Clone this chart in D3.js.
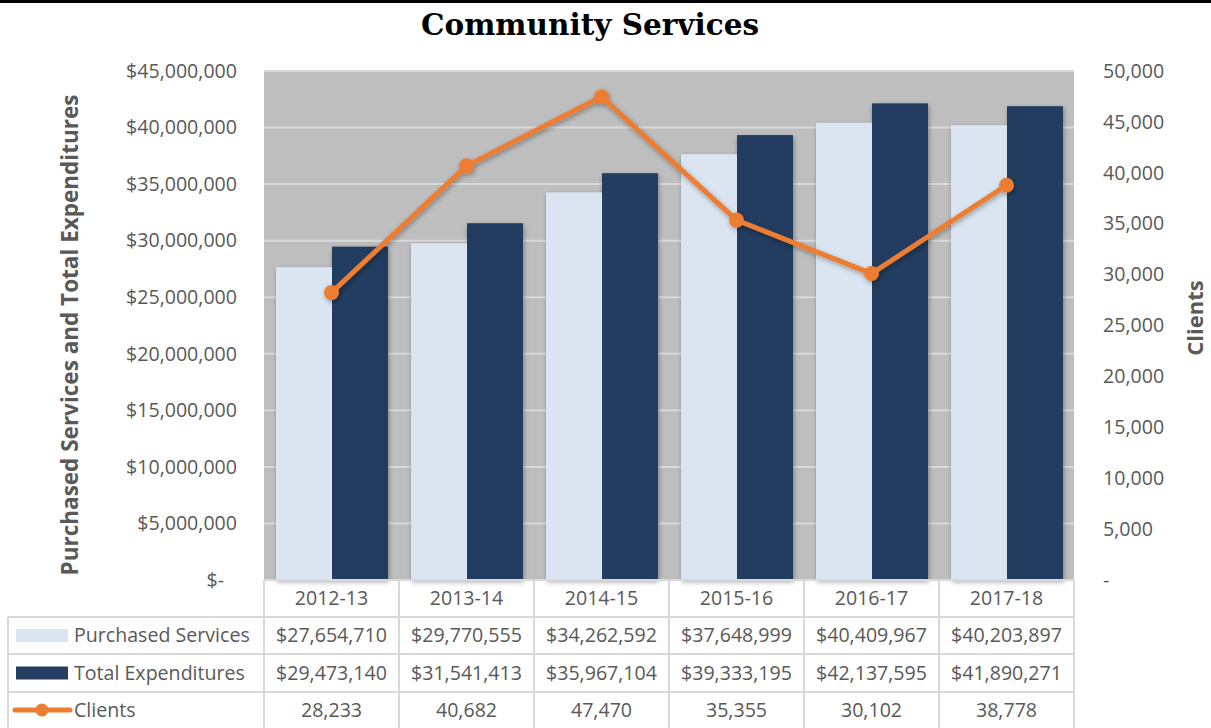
<!DOCTYPE html>
<html>
<head>
<meta charset="utf-8">
<script src="https://cdn.jsdelivr.net/npm/d3@7"></script>
<style>
  html, body { margin: 0; padding: 0; background: #fff; }
  svg { display: block; }
</style>
</head>
<body>
<svg id="chart" width="1211" height="728"></svg>
<script>
// Fiscal years shown along the category axis
const years = ["2012-13", "2013-14", "2014-15", "2015-16", "2016-17", "2017-18"];
// Dollar series (left axis)
const purchasedServices = [27654710, 29770555, 34262592, 37648999, 40409967, 40203897];
const totalExpenditures = [29473140, 31541413, 35967104, 39333195, 42137595, 41890271];
// Client counts (right axis)
const clients = [28233, 40682, 47470, 35355, 30102, 38778];
// Axis tick values
const dollarTicks = [0, 5e6, 10e6, 15e6, 20e6, 25e6, 30e6, 35e6, 40e6, 45e6];
const clientTicks = [0, 5000, 10000, 15000, 20000, 25000, 30000, 35000, 40000, 45000, 50000];

const seriesNames = ["Purchased Services", "Total Expenditures"];
const colors = { light: "#dbe5f1", dark: "#243e5f", line: "#ed7d31", text: "#595959", grid: "#d9d9d9", plot: "#bebebe" };

const svg = d3.select("#chart");
const font = "'Open Sans', 'Segoe UI', sans-serif";
const labelSize = 19.6;

const plot = { left: 264, right: 1074, top: 71, bottom: 580 };

// Shadow used under bars and the client line
const defs = svg.append("defs");
const shadow = defs.append("filter").attr("id", "shadow")
  .attr("x", "-20%").attr("y", "-20%").attr("width", "140%").attr("height", "140%");
shadow.append("feDropShadow").attr("dx", 1).attr("dy", 2).attr("stdDeviation", 2.5)
  .attr("flood-color", "#000").attr("flood-opacity", 0.35);

// Top rule
svg.append("rect").attr("x", 0).attr("y", 0).attr("width", 1211).attr("height", 3).attr("fill", "#000");

// Title
svg.append("text").attr("x", 590).attr("y", 35).attr("text-anchor", "middle")
  .attr("font-family", "'DejaVu Serif', serif").attr("font-weight", "bold")
  .attr("font-size", 29.5).attr("fill", "#000").text("Community Services");

// Scales
const x = d3.scaleBand().domain(years).range([plot.left, plot.right]).padding(0);
const xSub = d3.scaleBand().domain(seriesNames).range([12, x.bandwidth() - 11]).padding(0);
const yL = d3.scaleLinear().domain([0, 45e6]).range([plot.bottom, plot.top]);
const yR = d3.scaleLinear().domain([0, 50000]).range([plot.bottom, plot.top]);

// Plot background
svg.append("rect").attr("x", plot.left).attr("y", plot.top)
  .attr("width", plot.right - plot.left).attr("height", plot.bottom - plot.top)
  .attr("fill", colors.plot);

// Gridlines
svg.append("g").selectAll("line").data(dollarTicks.filter(d => d > 0)).join("line")
  .attr("x1", plot.left).attr("x2", plot.right)
  .attr("y1", d => yL(d)).attr("y2", d => yL(d))
  .attr("stroke", colors.grid).attr("stroke-width", 2);

// Bars
const barData = years.map((yr, i) => [
  { year: yr, key: seriesNames[0], value: purchasedServices[i], fill: colors.light },
  { year: yr, key: seriesNames[1], value: totalExpenditures[i], fill: colors.dark }
]).flat();

svg.append("g").attr("filter", "url(#shadow)").selectAll("rect").data(barData).join("rect")
  .attr("x", d => x(d.year) + xSub(d.key))
  .attr("y", d => yL(d.value))
  .attr("width", xSub.bandwidth())
  .attr("height", d => yL(0) - yL(d.value))
  .attr("fill", d => d.fill);

// Client line with markers
const linePts = years.map((yr, i) => [x(yr) + x.bandwidth() / 2, yR(clients[i])]);
const lineG = svg.append("g").attr("filter", "url(#shadow)");
lineG.append("path").attr("d", d3.line()(linePts))
  .attr("fill", "none").attr("stroke", colors.line).attr("stroke-width", 5)
  .attr("stroke-linejoin", "round");
lineG.selectAll("circle").data(linePts).join("circle")
  .attr("cx", d => d[0]).attr("cy", d => d[1]).attr("r", 7.5).attr("fill", colors.line);

// Left axis
const fmtDollar = d => d === 0 ? "$-" : "$" + d3.format(",")(d);
const leftAxis = svg.append("g").attr("transform", `translate(${plot.left - 27},0)`)
  .call(d3.axisLeft(yL).tickValues(dollarTicks).tickFormat(fmtDollar).tickSize(0).tickPadding(0));
leftAxis.select(".domain").remove();
leftAxis.selectAll("text").attr("font-family", font).attr("font-size", labelSize).attr("fill", colors.text)
  .attr("dx", d => d === 0 ? -13 : 0);

// Right axis
const fmtCount = d => d === 0 ? "-" : d3.format(",")(d);
const rightAxis = svg.append("g").attr("transform", `translate(${plot.right + 29},0)`)
  .call(d3.axisRight(yR).tickValues(clientTicks).tickFormat(fmtCount).tickSize(0).tickPadding(0));
rightAxis.select(".domain").remove();
rightAxis.selectAll("text").attr("font-family", font).attr("font-size", labelSize).attr("fill", colors.text);

// Axis titles
svg.append("text").attr("transform", "translate(78,335) rotate(-90)")
  .attr("text-anchor", "middle").attr("font-family", font).attr("font-weight", "bold")
  .attr("font-size", 22.5).attr("fill", colors.text)
  .text("Purchased Services and Total Expenditures");
svg.append("text").attr("transform", "translate(1203,318) rotate(-90)")
  .attr("text-anchor", "middle").attr("font-family", font).attr("font-weight", "bold")
  .attr("font-size", 22).attr("fill", colors.text).text("Clients");

// Data table beneath the plot
const rowEdges = [580, 617, 654, 692, 728];
const tableLeft = 8;
const table = svg.append("g");
const gridStroke = "#d9d9d9";

// Horizontal rules
table.append("line").attr("x1", plot.left).attr("x2", plot.right)
  .attr("y1", rowEdges[0]).attr("y2", rowEdges[0]).attr("stroke", gridStroke).attr("stroke-width", 2);
rowEdges.slice(1, 4).forEach(yv => {
  table.append("line").attr("x1", tableLeft).attr("x2", plot.right)
    .attr("y1", yv).attr("y2", yv).attr("stroke", gridStroke).attr("stroke-width", 2);
});
// Vertical rules
const colEdges = years.map(yr => x(yr)).concat([plot.right]);
table.selectAll("line.v").data(colEdges).join("line").attr("class", "v")
  .attr("x1", d => d).attr("x2", d => d).attr("y1", rowEdges[0]).attr("y2", 728)
  .attr("stroke", gridStroke).attr("stroke-width", 2);
table.append("line").attr("x1", tableLeft).attr("x2", tableLeft)
  .attr("y1", rowEdges[1]).attr("y2", 728).attr("stroke", gridStroke).attr("stroke-width", 2);

const rowMid = i => (rowEdges[i] + rowEdges[i + 1]) / 2;
const cellText = (xc, row, txt, anchor) => table.append("text")
  .attr("x", xc).attr("y", rowMid(row)).attr("dy", "0.35em")
  .attr("text-anchor", anchor || "middle").attr("font-family", font).attr("font-size", labelSize)
  .attr("fill", colors.text).text(txt);

years.forEach((yr, i) => {
  const cx = x(yr) + x.bandwidth() / 2;
  cellText(cx, 0, yr);
  cellText(cx, 1, "$" + d3.format(",")(purchasedServices[i]));
  cellText(cx, 2, "$" + d3.format(",")(totalExpenditures[i]));
  cellText(cx, 3, d3.format(",")(clients[i]));
});

// Legend keys in the first column
table.append("rect").attr("x", 16).attr("y", rowMid(1) - 6.5).attr("width", 52).attr("height", 13).attr("fill", colors.light);
table.append("rect").attr("x", 16).attr("y", rowMid(2) - 6.5).attr("width", 52).attr("height", 13).attr("fill", colors.dark);
table.append("line").attr("x1", 15).attr("x2", 70).attr("y1", rowMid(3)).attr("y2", rowMid(3))
  .attr("stroke", colors.line).attr("stroke-width", 5).attr("stroke-linecap", "round");
table.append("circle").attr("cx", 42).attr("cy", rowMid(3)).attr("r", 6.5).attr("fill", colors.line);
cellText(74, 1, seriesNames[0], "start");
cellText(74, 2, seriesNames[1], "start");
cellText(74, 3, "Clients", "start");
</script>
</body>
</html>
